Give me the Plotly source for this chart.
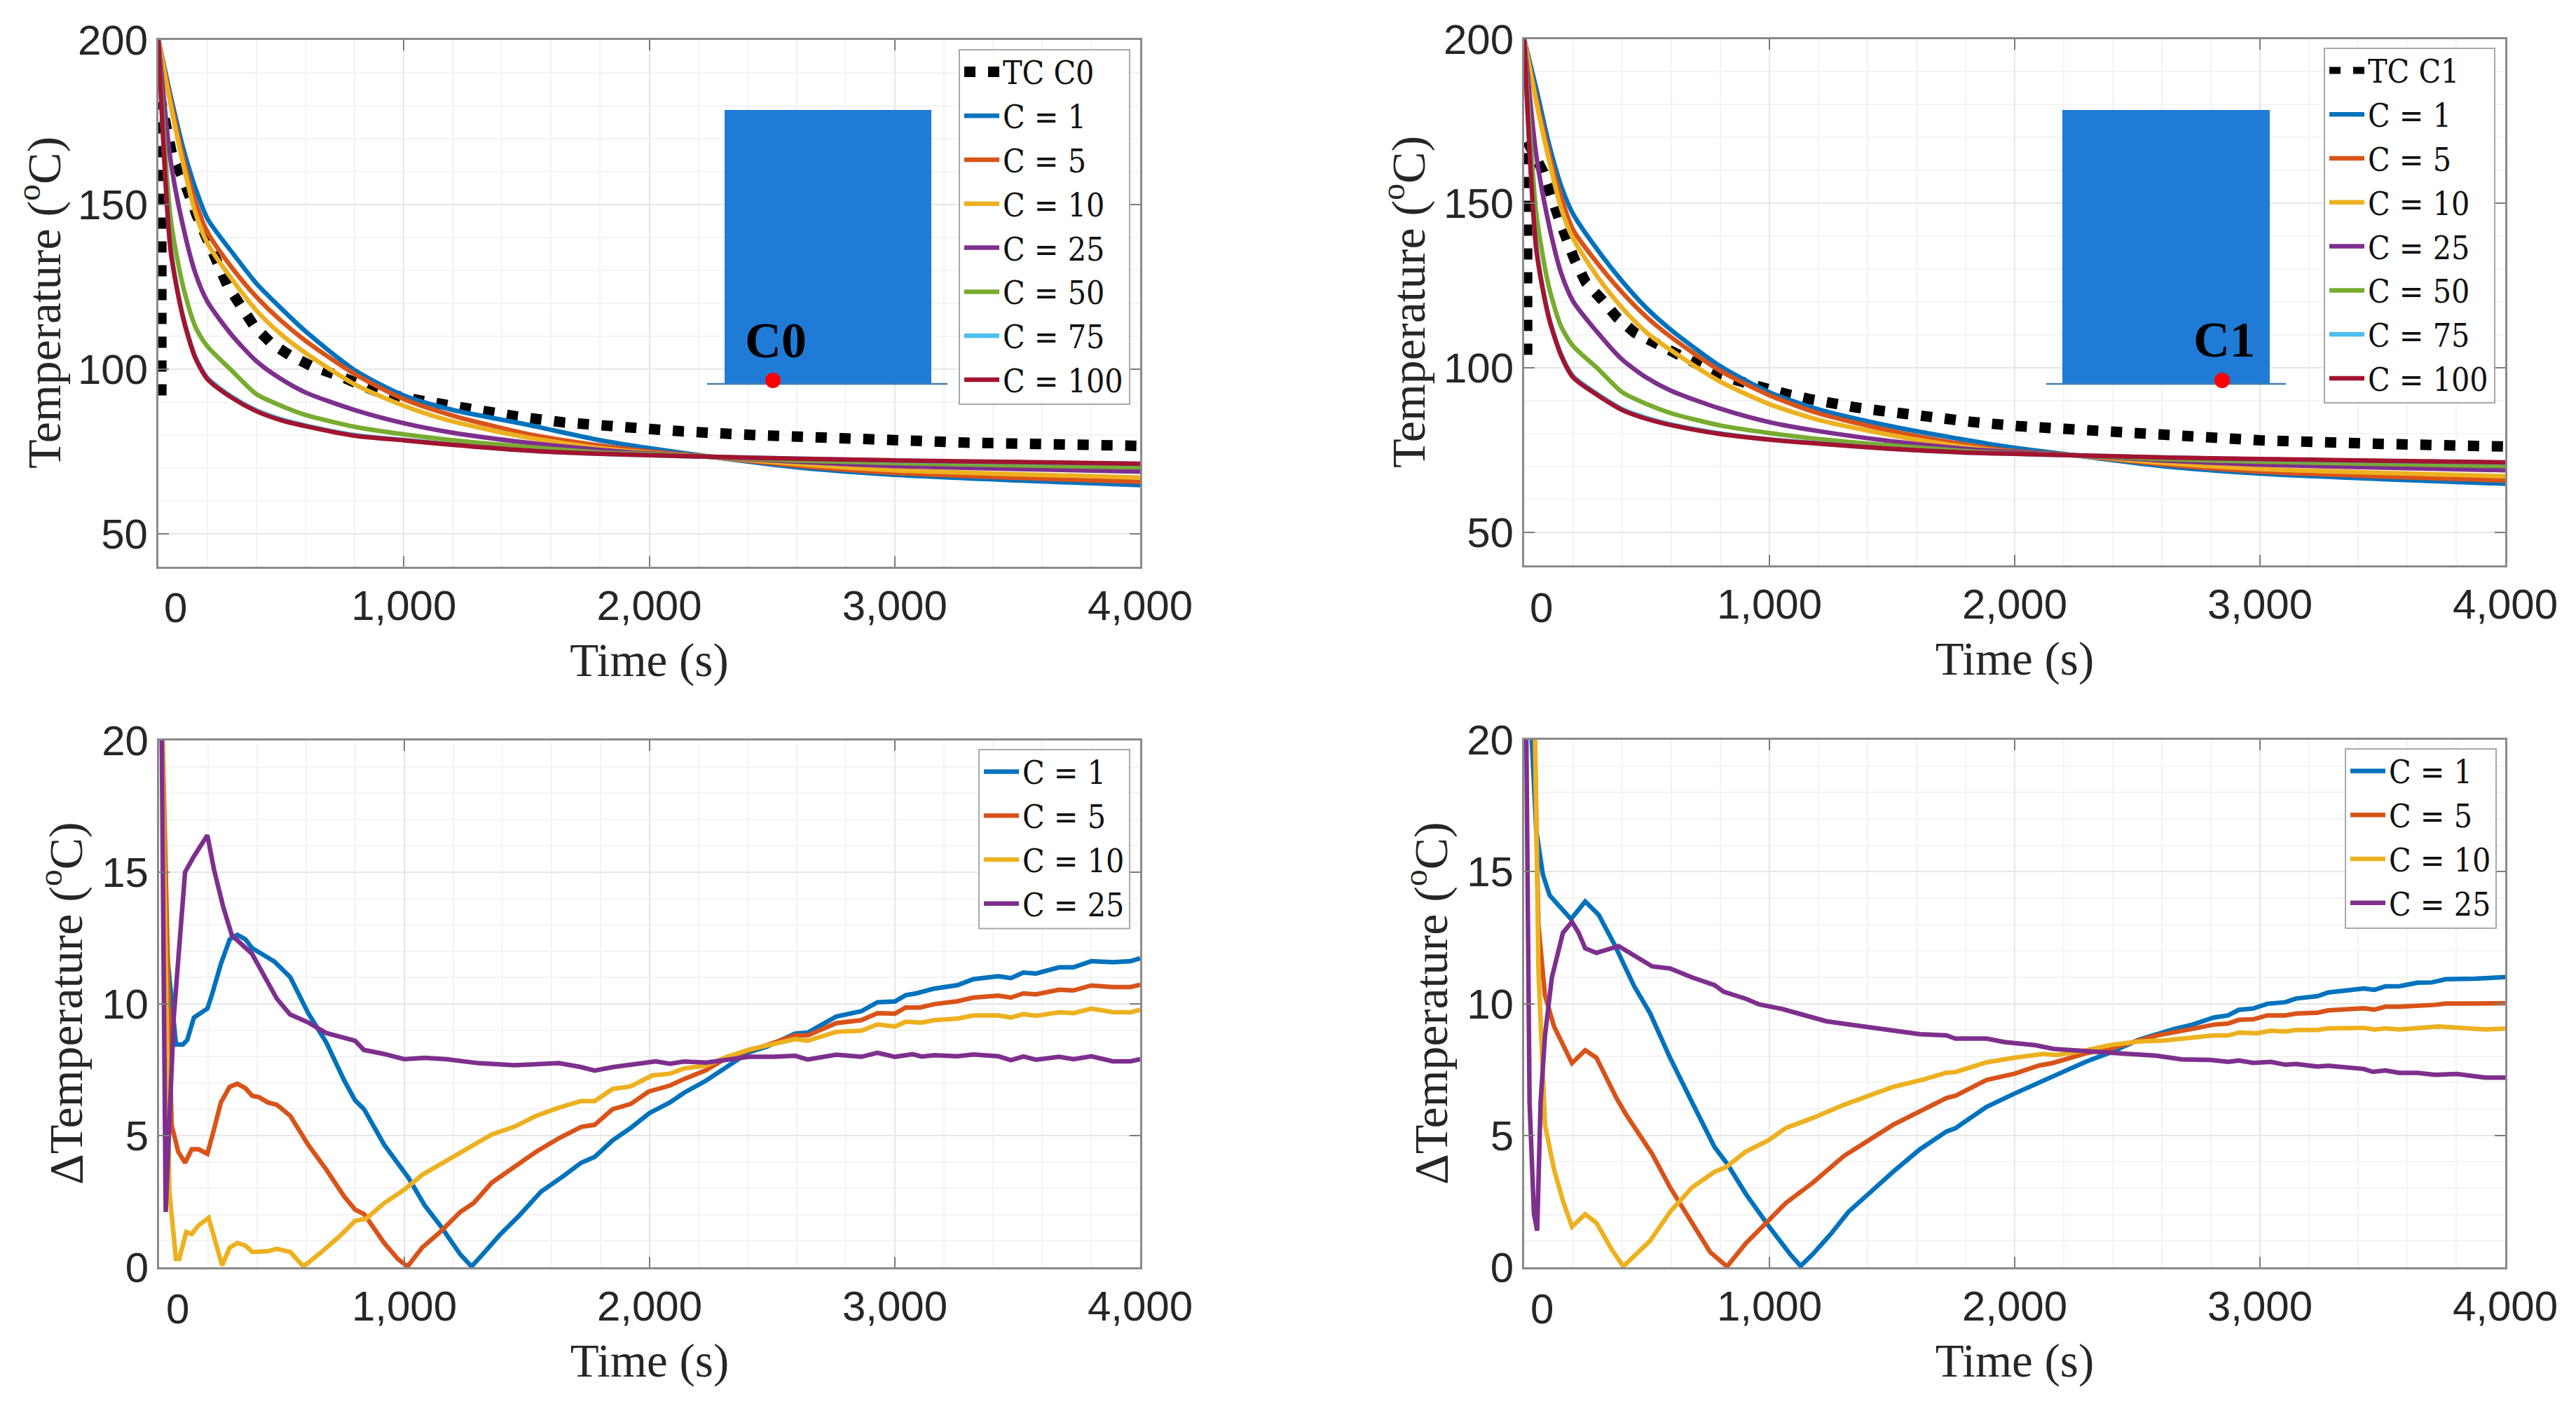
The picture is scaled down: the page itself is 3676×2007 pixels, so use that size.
import plotly.graph_objects as go

W, H = 3676, 2007

# ---------- top panels: shared time grid ----------
time_top = [0, 50, 100, 150, 200, 300, 400, 500, 600, 800, 1000, 1200, 1500, 1800, 2000, 2250, 2600, 3000, 3500, 4000]

c0_c1 = [200, 183, 167.4, 155.2, 145.7, 135.5, 126, 118.5, 111.5, 99.7, 92, 87.6, 83.2, 78.4, 76, 73.4, 70.2, 67.9, 66.2, 64.8]
c0_c5 = [200, 181.7, 164.7, 151, 141.6, 130.8, 121.9, 114.7, 108.6, 98.5, 90.9, 85.9, 80.4, 76.8, 75, 73.4, 70.7, 68.5, 67, 65.8]
c0_c10 = [200, 180.3, 162.6, 147.7, 138.2, 127.3, 117.8, 110.6, 104.9, 95.4, 88.9, 84.1, 79.3, 76, 74.6, 73.4, 71.2, 69.3, 68.1, 67.1]
c0_c25 = [200, 163.3, 143.6, 129.3, 120.5, 110.3, 102.4, 97, 92.9, 87.6, 83.6, 80.7, 77.7, 75.5, 74.4, 73.4, 71.9, 70.6, 69.7, 68.9]
c0_c50 = [200, 145.7, 125.3, 113, 106.9, 99.5, 92.4, 88.9, 86.1, 82.5, 80.2, 78.4, 76.4, 74.7, 74.2, 73.4, 72.3, 71.5, 70.8, 70.2]
c0_c75 = [200, 136.6, 116.2, 103.9, 97.4, 91.6, 87.5, 84.8, 82.9, 80, 78.5, 77.1, 75.3, 74.3, 73.9, 73.4, 72.8, 72.2, 71.7, 71.2]
c0_c100 = [200, 136.1, 115.8, 103.5, 97, 91.3, 87.2, 84.5, 82.7, 79.8, 78.4, 77, 75.3, 74.3, 73.9, 73.4, 72.8, 72.3, 71.8, 71.3]

c1_c1 = [200, 184.7, 168.4, 155.5, 146.7, 135.8, 126.3, 118.1, 111.5, 100.5, 92.6, 87.4, 82.2, 78.1, 75.7, 73.4, 70.2, 67.9, 66.2, 64.8]
c1_c5 = [200, 181.9, 165.7, 152.1, 141.9, 131.7, 122.9, 115.4, 109.3, 99.1, 91.7, 86.2, 80.8, 76.7, 74.7, 73.4, 70.7, 68.5, 67, 65.8]
c1_c10 = [200, 180.6, 163.6, 148.7, 139.2, 127.6, 118.2, 110.7, 105.3, 95.8, 89, 84.2, 79.5, 76, 74.4, 73.4, 71.2, 69.3, 68.1, 67.1]
c1_c25 = [200, 164.3, 143.9, 129, 120.2, 110.7, 102.5, 97, 93, 87.6, 83.5, 80.8, 77.7, 75.4, 74.4, 73.4, 71.9, 70.6, 69.7, 68.9]
c1_c50 = [200, 146.7, 124.9, 112.7, 106.6, 99.8, 92.6, 89, 86.2, 82.5, 80.2, 78.4, 76.4, 74.7, 74, 73.4, 72.3, 71.5, 70.8, 70.2]
c1_c75 = [200, 136.3, 115.8, 104.3, 97.5, 92, 87.5, 84.8, 82.8, 80.1, 78.3, 77.1, 75.4, 74.3, 73.9, 73.4, 72.8, 72.2, 71.7, 71.2]
c1_c100 = [200, 135.8, 115.4, 103.9, 97.1, 91.7, 87.2, 84.5, 82.6, 79.9, 78.2, 77, 75.4, 74.3, 73.9, 73.4, 72.8, 72.3, 71.8, 71.3]

tc0_time = [12, 12, 55, 100, 155, 227, 282, 391, 464, 536, 627, 736, 900, 1082, 1282, 1464, 1655, 1845, 2036, 2136, 2423, 2710, 3000, 3287, 3575, 3960, 4000]
tc0_temp = [92, 181, 165.4, 158, 147, 134.8, 125.3, 113, 107.6, 104.2, 100.8, 98, 92.9, 90.3, 87.6, 85.6, 83.8, 82.5, 81.5, 81.1, 80, 79.1, 78.4, 77.7, 77.3, 76.8, 76.7]
tc1_time = [12, 12, 78, 105, 142, 205, 251, 315, 378, 451, 542, 615, 705, 796, 887, 978, 1069, 1160, 1251, 1351, 1451, 1633, 1824, 2015, 2500, 3000, 3500, 4000]
tc1_temp = [104, 169, 159.5, 152.8, 145.3, 133, 126, 120.9, 115.4, 110.7, 107.3, 103.9, 100.5, 97.8, 95.8, 93.7, 92.1, 90.6, 89.2, 88, 87, 85, 83.6, 82.3, 80, 78, 76.9, 76.1]

# ---------- bottom-left panel (C0 difference) ----------
d0_c1_t = [0, 10, 24, 69, 97, 115, 142, 197, 215, 252, 288, 319, 352, 380, 425, 471, 535, 608, 681, 754, 799, 836, 918, 1018, 1082, 1146, 1228, 1274, 1319, 1392, 1465, 1557, 1648, 1721, 1776, 1849, 1923, 2000, 2083, 2141, 2229, 2316, 2404, 2477, 2593, 2644, 2761, 2863, 2929, 3000, 3044, 3087, 3160, 3255, 3320, 3422, 3473, 3524, 3575, 3670, 3728, 3801, 3888, 3961, 4000]
d0_c1_v = [40, 21, 12.7, 8.46, 8.46, 8.63, 9.48, 9.82, 10.33, 11.52, 12.45, 12.62, 12.45, 12.11, 11.86, 11.6, 11.01, 9.65, 8.55, 7.11, 6.34, 6.0, 4.65, 3.38, 2.36, 1.59, 0.49, 0.03, 0.49, 1.26, 1.93, 2.87, 3.46, 3.97, 4.19, 4.82, 5.29, 5.86, 6.26, 6.63, 7.08, 7.62, 8.16, 8.37, 8.87, 8.91, 9.52, 9.72, 10.06, 10.09, 10.33, 10.4, 10.58, 10.71, 10.94, 11.05, 10.98, 11.19, 11.15, 11.39, 11.39, 11.62, 11.58, 11.62, 11.73]
d0_c5_t = [0, 12, 51, 78, 106, 133, 161, 197, 224, 252, 288, 319, 352, 380, 407, 443, 480, 535, 608, 681, 754, 799, 836, 918, 973, 1013, 1073, 1146, 1228, 1283, 1356, 1447, 1538, 1630, 1721, 1776, 1849, 1923, 1996, 2083, 2141, 2229, 2316, 2404, 2477, 2593, 2644, 2761, 2863, 2929, 3000, 3044, 3102, 3160, 3255, 3320, 3422, 3473, 3524, 3575, 3670, 3728, 3801, 3888, 3961, 4000]
d0_c5_v = [40, 21, 5.41, 4.39, 3.97, 4.48, 4.48, 4.31, 5.24, 6.26, 6.85, 6.97, 6.8, 6.51, 6.46, 6.26, 6.17, 5.75, 4.65, 3.72, 2.7, 2.19, 2.02, 0.92, 0.32, 0.03, 0.75, 1.34, 2.1, 2.44, 3.21, 3.8, 4.39, 4.9, 5.33, 5.41, 6.0, 6.2, 6.67, 6.9, 7.15, 7.48, 7.96, 8.23, 8.43, 8.8, 8.8, 9.27, 9.38, 9.65, 9.63, 9.86, 9.86, 9.99, 10.1, 10.24, 10.31, 10.24, 10.4, 10.36, 10.54, 10.51, 10.7, 10.64, 10.64, 10.73]
d0_c10_t = [0, 12, 42, 69, 82, 111, 133, 161, 202, 224, 257, 288, 319, 352, 380, 443, 480, 535, 589, 662, 735, 799, 845, 918, 1000, 1073, 1173, 1265, 1356, 1447, 1538, 1630, 1721, 1776, 1849, 1923, 2010, 2083, 2141, 2229, 2316, 2404, 2477, 2593, 2644, 2761, 2863, 2929, 3000, 3044, 3109, 3160, 3255, 3320, 3422, 3473, 3524, 3575, 3670, 3728, 3801, 3888, 3961, 4000]
d0_c10_v = [40, 21, 2.87, 0.32, 0.32, 1.34, 1.26, 1.59, 1.88, 1.17, 0.07, 0.75, 0.92, 0.83, 0.58, 0.61, 0.7, 0.58, 0.03, 0.58, 1.17, 1.76, 1.85, 2.44, 2.95, 3.51, 4.05, 4.53, 5.04, 5.33, 5.75, 6.06, 6.31, 6.31, 6.77, 6.87, 7.28, 7.35, 7.55, 7.66, 7.99, 8.26, 8.42, 8.66, 8.6, 8.94, 8.98, 9.22, 9.14, 9.32, 9.29, 9.38, 9.44, 9.56, 9.56, 9.48, 9.61, 9.55, 9.68, 9.65, 9.82, 9.69, 9.68, 9.78]
d0_c25_t = [0, 10, 27, 60, 106, 142, 197, 224, 261, 297, 379, 443, 480, 534, 607, 680, 799, 835, 917, 1000, 1082, 1173, 1301, 1447, 1630, 1721, 1776, 1850, 1923, 2025, 2083, 2141, 2229, 2316, 2404, 2506, 2593, 2644, 2761, 2863, 2929, 3000, 3073, 3109, 3160, 3255, 3320, 3422, 3473, 3524, 3575, 3670, 3728, 3801, 3888, 3961, 4000]
d0_c25_v = [40, 21, 2.1, 9.5, 15, 15.6, 16.4, 15.1, 13.7, 12.6, 11.9, 10.8, 10.2, 9.6, 9.3, 8.9, 8.6, 8.25, 8.1, 7.9, 7.95, 7.9, 7.75, 7.67, 7.75, 7.6, 7.47, 7.6, 7.69, 7.82, 7.73, 7.81, 7.77, 7.89, 7.99, 7.99, 8.03, 7.89, 8.07, 7.99, 8.14, 7.99, 8.09, 8, 8.05, 8.01, 8.08, 8.01, 7.86, 8, 7.88, 7.99, 7.9, 8.01, 7.82, 7.82, 7.9]

# ---------- bottom-right panel (C1 difference) ----------
d1_c1_t = [0, 31, 49, 76, 104, 149, 191, 249, 304, 367, 449, 513, 595, 685, 776, 831, 904, 995, 1085, 1127, 1176, 1249, 1322, 1413, 1504, 1613, 1722, 1758, 1885, 2000, 2070, 2121, 2216, 2289, 2391, 2507, 2652, 2725, 2812, 2870, 2914, 2972, 3030, 3103, 3147, 3234, 3278, 3423, 3467, 3511, 3569, 3642, 3700, 3758, 3875, 4000]
d1_c1_v = [40, 20, 16.6, 14.9, 14.1, 13.6, 13.2, 13.87, 13.36, 12.26, 10.65, 9.64, 7.94, 6.25, 4.56, 3.88, 2.78, 1.59, 0.49, 0.05, 0.49, 1.25, 2.1, 2.86, 3.62, 4.47, 5.15, 5.27, 6.08, 6.59, 6.87, 7.11, 7.48, 7.79, 8.15, 8.63, 9.04, 9.2, 9.47, 9.55, 9.76, 9.81, 9.99, 10.05, 10.19, 10.28, 10.42, 10.57, 10.52, 10.65, 10.66, 10.79, 10.8, 10.92, 10.94, 11]
d1_c5_t = [0, 40, 58, 85, 122, 195, 249, 295, 376, 413, 522, 595, 685, 758, 827, 904, 995, 1067, 1176, 1304, 1504, 1722, 1758, 1885, 2000, 2099, 2157, 2289, 2391, 2507, 2579, 2725, 2812, 2870, 2914, 2972, 3030, 3103, 3147, 3234, 3278, 3423, 3467, 3511, 3569, 3715, 3758, 3875, 4000]
d1_c5_v = [40, 20, 13, 10.3, 9.13, 7.74, 8.23, 7.94, 6.42, 5.83, 4.3, 3.03, 1.68, 0.58, 0.03, 0.91, 1.76, 2.44, 3.2, 4.22, 5.4, 6.42, 6.5, 7.1, 7.34, 7.65, 7.75, 8.11, 8.29, 8.6, 8.79, 9.04, 9.2, 9.24, 9.38, 9.4, 9.55, 9.55, 9.62, 9.65, 9.74, 9.82, 9.77, 9.88, 9.88, 9.95, 10, 10, 10.01]
d1_c10_t = [0, 45, 58, 85, 122, 158, 195, 249, 295, 358, 404, 513, 595, 685, 776, 822, 904, 995, 1067, 1176, 1304, 1504, 1631, 1722, 1758, 1885, 2000, 2114, 2172, 2289, 2391, 2507, 2609, 2725, 2812, 2870, 2914, 2987, 3045, 3103, 3147, 3234, 3278, 3423, 3467, 3511, 3569, 3729, 3802, 3919, 4000]
d1_c10_v = [40, 20, 11.33, 5.4, 3.7, 2.52, 1.54, 2.01, 1.68, 0.66, 0.03, 1, 2.1, 3.03, 3.62, 3.79, 4.39, 4.81, 5.28, 5.66, 6.16, 6.84, 7.13, 7.38, 7.4, 7.77, 7.95, 8.09, 8.05, 8.22, 8.43, 8.56, 8.6, 8.7, 8.79, 8.79, 8.9, 8.87, 8.97, 8.94, 9, 9, 9.06, 9.08, 9.01, 9.06, 9.02, 9.13, 9.1, 9.02, 9.05]
d1_c25_t = [0, 9, 22, 40, 53, 67, 85, 113, 158, 195, 222, 249, 295, 385, 431, 522, 595, 685, 776, 813, 904, 958, 1049, 1122, 1231, 1322, 1449, 1504, 1613, 1722, 1758, 1885, 1958, 2085, 2158, 2209, 2391, 2507, 2579, 2681, 2798, 2870, 2914, 2972, 3045, 3103, 3147, 3234, 3278, 3423, 3460, 3511, 3569, 3642, 3715, 3802, 3919, 4000]
d1_c25_v = [40, 20, 6.25, 2.02, 1.39, 6.25, 8.79, 10.99, 12.68, 13.1, 12.68, 12.09, 11.92, 12.18, 11.92, 11.41, 11.33, 10.99, 10.7, 10.45, 10.18, 9.97, 9.8, 9.6, 9.33, 9.21, 9.04, 9, 8.84, 8.79, 8.67, 8.67, 8.54, 8.42, 8.28, 8.25, 8.15, 8.09, 8.02, 7.88, 7.86, 7.79, 7.84, 7.75, 7.79, 7.68, 7.71, 7.61, 7.64, 7.52, 7.41, 7.46, 7.37, 7.37, 7.3, 7.33, 7.19, 7.19]

c_names = ["C = 1", "C = 5", "C = 10", "C = 25", "C = 50", "C = 75", "C = 100"]
c_colors = ["#0072BD", "#D95319", "#EDB120", "#7E2F8E", "#77AC30", "#4DBEEE", "#A2142F"]
x_ticks = [1000, 2000, 3000, 4000]
x_tick_labels = ["1,000", "2,000", "3,000", "4,000"]

SANS = "Liberation Sans"
SERIF = "Liberation Serif"
LEG = "DejaVu Serif Condensed, DejaVu Serif"
INK = "#262626"
AX = "#8a8a8a"
LW = 6.5

# panel frames in page pixels: left, right, top, bottom
frames = {
    "": (226, 1627, 57, 809),
    "2": (2175, 3575, 55.5, 807),
    "3": (227, 1627, 1057, 1809),
    "4": (2175, 3575, 1056, 1809),
}

fig = go.Figure()


def add(name, x, y, color, sub, legend, width=LW, dash=None, smooth=False):
    line = dict(color=color, width=width, dash=dash)
    if smooth:
        line.update(shape="spline", smoothing=0.7)
    fig.add_trace(go.Scatter(
        x=x, y=y, name=name, mode="lines", line=line,
        xaxis="x" + sub, yaxis="y" + sub, legend=legend))


add("TC C0", tc0_time, tc0_temp, "black", "", "legend", 15, "16px,18px")
for nm, col, vals in zip(c_names, c_colors, [c0_c1, c0_c5, c0_c10, c0_c25, c0_c50, c0_c75, c0_c100]):
    add(nm, time_top, vals, col, "", "legend", smooth=True)
add("TC C1", tc1_time, tc1_temp, "black", "2", "legend2", 15, "16px,18px")
for nm, col, vals in zip(c_names, c_colors, [c1_c1, c1_c5, c1_c10, c1_c25, c1_c50, c1_c75, c1_c100]):
    add(nm, time_top, vals, col, "2", "legend2", smooth=True)
for nm, col, t, v in zip(c_names, c_colors,
                         [d0_c1_t, d0_c5_t, d0_c10_t, d0_c25_t],
                         [d0_c1_v, d0_c5_v, d0_c10_v, d0_c25_v]):
    add(nm, t, v, col, "3", "legend3")
for nm, col, t, v in zip(c_names, c_colors,
                         [d1_c1_t, d1_c5_t, d1_c10_t, d1_c25_t],
                         [d1_c1_v, d1_c5_v, d1_c10_v, d1_c25_v]):
    add(nm, t, v, col, "4", "legend4")

layout = dict(
    width=W, height=H, margin=dict(l=0, r=0, t=0, b=0, autoexpand=False),
    paper_bgcolor="white", plot_bgcolor="white", showlegend=True,
    font=dict(family=SANS, color=INK),
)

for sub, (l, r, t, b) in frames.items():
    top_row = sub in ("", "2")
    layout["xaxis" + sub] = dict(
        domain=[l / W, r / W], range=[0, 4000], anchor="y" + sub, automargin=False,
        tickmode="array", tickvals=x_ticks, ticktext=x_tick_labels,
        ticks="inside", ticklen=15, tickwidth=2, tickcolor="#7a7a7a",
        ticklabelstandoff=1,
        showline=True, linecolor=AX, linewidth=3, mirror="ticks",
        showgrid=True, gridcolor="#e6e6e6", gridwidth=2,
        minor=dict(dtick=200, tick0=0, showgrid=True, gridcolor="#f3f3f3", gridwidth=2, ticks=""),
        tickfont=dict(family=SANS, size=60, color=INK),
        title=dict(text="Time (s)", font=dict(family=SERIF, size=67, color=INK), standoff=22),
        zeroline=False,
    )
    layout["yaxis" + sub] = dict(
        domain=[1 - b / H, 1 - t / H], anchor="x" + sub, automargin=False,
        range=[40, 200] if top_row else [0, 20],
        tickmode="array",
        tickvals=[50, 100, 150, 200] if top_row else [0, 5, 10, 15, 20],
        ticks="inside", ticklen=15, tickwidth=2, tickcolor="#7a7a7a",
        ticklabelstandoff=0,
        showline=True, linecolor=AX, linewidth=3, mirror="ticks",
        showgrid=True, gridcolor="#e6e6e6", gridwidth=2,
        minor=dict(dtick=10 if top_row else 1, tick0=0, showgrid=True, gridcolor="#f3f3f3", gridwidth=2, ticks=""),
        tickfont=dict(family=SANS, size=60, color=INK),
        zeroline=False,
    )

LEGEND_STYLE = dict(
    xanchor="left", yanchor="top", bgcolor="rgba(0,0,0,0)", borderwidth=0,
    font=dict(family=LEG, size=46, color="#111111"), itemwidth=50,
    entrywidthmode="pixels", itemclick=False, itemdoubleclick=False,
)
# legend frames in page pixels: left, right, top, bottom, entry width
legend_boxes = {
    "legend": ("", 1369, 1612, 71, 577, 180),
    "legend2": ("2", 3317, 3560, 69, 575, 180),
    "legend3": ("3", 1397, 1612, 1070, 1325.5, 152),
    "legend4": ("4", 3347, 3562, 1069, 1325, 152),
}
for key, (_, lx0, lx1, ly0, ly1, ew) in legend_boxes.items():
    layout[key] = dict(x=(lx0 + 2) / W, y=1 - (ly0 - 5) / H, entrywidth=ew, **LEGEND_STYLE)


def px_shape(kind, x0, x1, y0, y1, sub, layer="above", **kw):
    """Inset drawing: page pixels converted to the panel's own axis values."""
    l, r, t, b = frames[sub]
    lo, hi = (40, 200) if sub in ("", "2") else (0, 20)
    return dict(type=kind, xref="x" + sub, yref="y" + sub, layer=layer,
                x0=(x0 - l) / (r - l) * 4000, x1=(x1 - l) / (r - l) * 4000,
                y0=lo + (b - y0) / (b - t) * (hi - lo), y1=lo + (b - y1) / (b - t) * (hi - lo), **kw)


BLUE = "#207BD7"
shapes = []
for sub, (ax0, rx0, rx1, ax1, dot) in {"": (1009, 1034, 1329, 1352, 1103),
                                         "2": (2920, 2943, 3239, 3262, 3171)}.items():
    shapes.append(px_shape("rect", ax0, ax1, 157, 553, sub, layer="below", fillcolor="white", line_width=0))
    shapes.append(px_shape("rect", rx0, rx1, 157, 548, sub, fillcolor=BLUE, line_width=0))
    shapes.append(px_shape("line", ax0, ax1, 548, 548, sub, line=dict(color="#3F7FB5", width=2.5)))
    shapes.append(px_shape("circle", dot - 11, dot + 11, 532, 554, sub, fillcolor="#FF0000", line_width=0))
for key, (sub, lx0, lx1, ly0, ly1, ew) in legend_boxes.items():
    shapes.append(px_shape("rect", lx0, lx1, ly0, ly1, sub, fillcolor="white",
                           line=dict(color="#a8a8a8", width=2)))
layout["shapes"] = shapes


def note(text, x, y, family, size, angle=0, color="black"):
    return dict(text=text, x=x / W, y=1 - y / H, xref="paper", yref="paper", showarrow=False,
                textangle=angle, xanchor="center", yanchor="middle",
                font=dict(family=family, size=size, color=color))


layout["annotations"] = [
    note("<b>C0</b>", 1107, 486, SERIF, 72),
    note("<b>C1</b>", 3174, 485, SERIF, 72),
    note("Temperature (<sup>o</sup>C)", 58, 432, SERIF, 68, -90, INK),
    note("Temperature (<sup>o</sup>C)", 2005, 431, SERIF, 68, -90, INK),
    note("\u0394Temperature (<sup>o</sup>C)", 89, 1432, SERIF, 68, -90, INK),
    note("\u0394Temperature (<sup>o</sup>C)", 2037, 1432, SERIF, 68, -90, INK),
    note("0", 250.6, 867, SANS, 60, color=INK),
    note("0", 2199, 867, SANS, 60, color=INK),
    note("0", 253, 1868, SANS, 60, color=INK),
    note("0", 2200.6, 1868, SANS, 60, color=INK),
]

fig.update_layout(**layout)
POST = """
document.body.style.margin='0';document.body.style.overflow='hidden';
function fixLegend(){
  document.querySelectorAll('.legend .legendlines path').forEach(function(p){
    var dashed=(p.style.strokeDasharray||'none')!=='none';
    p.style.strokeWidth=dashed?'15px':'6.5px';
  });
}
fixLegend();setTimeout(fixLegend,100);
"""
fig.write_html("out.html", config=dict(displayModeBar=False), post_script=POST)
